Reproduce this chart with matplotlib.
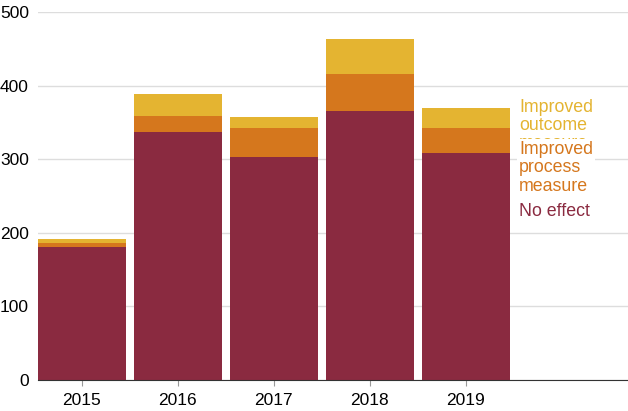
import matplotlib.pyplot as plt
import numpy as np

plt.rcParams['font.family'] = ['Liberation Sans', 'DejaVu Sans']

years = ['2015', '2016', '2017', '2018', '2019']
no_effect = [181, 337, 303, 365, 308]
process = [5, 22, 40, 51, 34]
outcome = [6, 30, 14, 47, 27]

labels = ['No effect', 'Improved\nprocess\nmeasure', 'Improved\noutcome\nmeasure']
colors = ['#8A2A40', '#D5771D', '#E4B431']
# baseline of the last line of each label, in data units
label_y = [222.8, 257.2, 315]

fig = plt.figure(figsize=(6.28, 4.11), dpi=100)
ax = fig.add_axes([38 / 628, 31 / 411, 590 / 628, 368 / 411])

x = np.arange(len(years))
w = 0.915
bottom = np.zeros(len(years))
for vals, c in zip([no_effect, process, outcome], colors):
    ax.bar(x, vals, w, bottom=bottom, color=c, zorder=2)
    bottom += np.array(vals)

ax.set_xlim(-w / 2, 5.69)
ax.set_ylim(0, 500)
ax.set_yticks([0, 100, 200, 300, 400, 500])
ax.set_xticks(x)
ax.set_xticklabels(years)
ax.grid(axis='y', color='#dddddd', linewidth=1, zorder=0)
ax.set_axisbelow(True)
for s in ['left', 'right', 'top']:
    ax.spines[s].set_visible(False)
ax.spines['bottom'].set_color('#333333')
ax.tick_params(axis='y', length=0, pad=6.5, labelsize=12.5, labelcolor='black')
ax.tick_params(axis='x', length=4, color='#999999', pad=5, labelsize=12.5)

# labels beside the last bar (process label drawn over the outcome label)
lx = 4.557
fs = 12.8
ax.text(lx, label_y[2], labels[2], color=colors[2], fontsize=fs,
        va='baseline', ha='left', linespacing=1.1, zorder=3)
ax.text(lx, label_y[1], labels[1], color=colors[1], fontsize=fs,
        va='baseline', ha='left', linespacing=1.1, zorder=4,
        bbox=dict(facecolor='white', edgecolor='none', pad=1.5))
ax.text(lx, label_y[0], labels[0], color=colors[0], fontsize=fs,
        va='baseline', ha='left', zorder=3)

fig.savefig('out.png', dpi=100)
